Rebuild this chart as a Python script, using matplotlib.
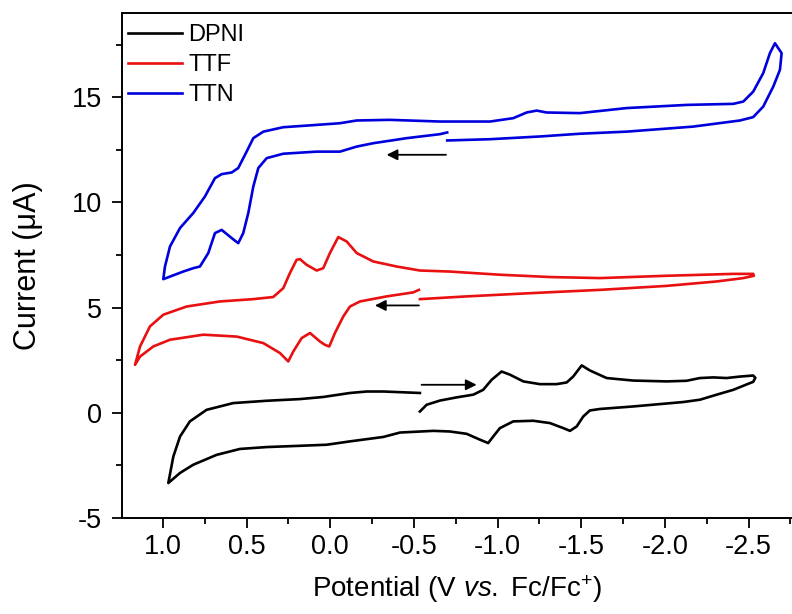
import matplotlib
matplotlib.use("Agg")
import matplotlib.pyplot as plt
from matplotlib.ticker import MultipleLocator

plt.rcParams['font.family'] = ['Liberation Sans', 'DejaVu Sans']
plt.rcParams['axes.unicode_minus'] = False
plt.rcParams['mathtext.fontset'] = 'custom'
plt.rcParams['mathtext.rm'] = 'Liberation Sans'
plt.rcParams['mathtext.it'] = 'Liberation Sans:italic'

# ---- data (Potential in V vs Fc/Fc+, Current in uA) ----
dpni_E = [-0.536, -0.576, -0.656, -0.755, -0.855, -0.914, -0.965, -1.024, -1.074, -1.154,
          -1.253, -1.353, -1.413, -1.452, -1.503, -1.552, -1.652, -1.811, -2.011, -2.130,
          -2.210, -2.289, -2.369, -2.449, -2.528, -2.541, -2.528, -2.509, -2.409, -2.310,
          -2.210, -2.110, -1.811, -1.612, -1.552, -1.512, -1.473, -1.433, -1.393, -1.313,
          -1.213, -1.094, -1.014, -0.974, -0.944, -0.895, -0.815, -0.715, -0.616, -0.417,
          -0.317, -0.118, 0.022, 0.181, 0.380, 0.540, 0.679, 0.819, 0.898, 0.968,
          0.938, 0.898, 0.839, 0.739, 0.580, 0.380, 0.181, 0.042, -0.118, -0.218,
          -0.317, -0.536]
dpni_I = [0.06, 0.38, 0.58, 0.73, 0.86, 1.09, 1.57, 1.96, 1.81, 1.49,
          1.36, 1.36, 1.44, 1.72, 2.25, 2.01, 1.65, 1.53, 1.49, 1.52,
          1.65, 1.68, 1.65, 1.72, 1.77, 1.66, 1.47, 1.41, 1.09, 0.86,
          0.62, 0.51, 0.30, 0.18, 0.11, -0.18, -0.65, -0.86, -0.73, -0.49,
          -0.38, -0.41, -0.73, -1.13, -1.44, -1.28, -1.00, -0.89, -0.86, -0.94,
          -1.15, -1.36, -1.52, -1.57, -1.63, -1.72, -2.00, -2.47, -2.86, -3.34,
          -2.08, -1.13, -0.41, 0.14, 0.46, 0.57, 0.65, 0.75, 0.94, 1.01,
          1.01, 0.94]

ttf_E = [-0.530, -0.496, -0.337, -0.178, -0.118, -0.078, -0.028, 0.006, 0.032, 0.062,
         0.121, 0.171, 0.221, 0.251, 0.301, 0.400, 0.559, 0.759, 0.958, 1.058,
         1.137, 1.167, 1.137, 1.078, 0.998, 0.858, 0.659, 0.460, 0.341, 0.281,
         0.241, 0.201, 0.181, 0.141, 0.081, 0.042, 0.002, -0.048, -0.098, -0.158,
         -0.257, -0.397, -0.536, -0.715, -1.014, -1.313, -1.612, -2.011, -2.409, -2.528,
         -2.532, -2.469, -2.310, -2.011, -1.612, -1.213, -0.815, -0.536]
ttf_I = [5.84, 5.72, 5.53, 5.29, 5.05, 4.58, 3.79, 3.15, 3.23, 3.39,
         3.79, 3.55, 2.91, 2.44, 2.84, 3.31, 3.62, 3.71, 3.47, 3.15,
         2.67, 2.28, 3.15, 4.10, 4.66, 5.05, 5.29, 5.40, 5.50, 5.92,
         6.64, 7.27, 7.30, 7.03, 6.76, 6.87, 7.59, 8.35, 8.14, 7.59,
         7.19, 6.95, 6.76, 6.71, 6.56, 6.45, 6.40, 6.51, 6.60, 6.60,
         6.51, 6.40, 6.24, 6.03, 5.84, 5.69, 5.53, 5.40]

ttn_E = [-0.699, -0.656, -0.457, -0.257, -0.158, -0.058, 0.081, 0.281, 0.380, 0.430,
         0.460, 0.490, 0.520, 0.550, 0.589, 0.649, 0.689, 0.729, 0.779, 0.819,
         0.879, 0.998, 0.988, 0.958, 0.898, 0.819, 0.749, 0.689, 0.649, 0.589,
         0.550, 0.500, 0.460, 0.400, 0.281, 0.081, -0.058, -0.158, -0.357, -0.656,
         -0.955, -1.094, -1.174, -1.234, -1.293, -1.492, -1.772, -2.130, -2.409, -2.469,
         -2.528, -2.588, -2.628, -2.658, -2.698, -2.688, -2.648, -2.588, -2.528, -2.449,
         -2.170, -1.772, -1.492, -1.253, -0.955, -0.699]
ttn_I = [13.32, 13.24, 13.05, 12.81, 12.65, 12.41, 12.41, 12.31, 12.10, 11.63,
         10.75, 9.49, 8.54, 8.06, 8.30, 8.69, 8.54, 7.59, 6.95, 6.87,
         6.71, 6.35, 6.95, 7.90, 8.78, 9.49, 10.28, 11.15, 11.34, 11.42,
         11.63, 12.41, 13.05, 13.36, 13.57, 13.68, 13.76, 13.89, 13.92, 13.84,
         13.84, 14.00, 14.27, 14.36, 14.27, 14.24, 14.48, 14.63, 14.68, 14.79,
         15.26, 16.14, 17.09, 17.56, 17.09, 16.30, 15.50, 14.55, 14.05, 13.89,
         13.60, 13.36, 13.26, 13.13, 13.00, 12.94]

# scan-direction arrows: (E_tail, E_head, I)
arrow_dpni = (-0.546, -0.875, 1.33)
arrow_ttf = (-0.530, -0.267, 5.10)
arrow_ttn = (-0.692, -0.337, 12.26)

labels = ['DPNI', 'TTF', 'TTN']
colors = ['#000000', '#e81010', '#0000dd']

fig = plt.figure(figsize=(7.92, 6.14), dpi=100)
ax = fig.add_axes([0.154, 0.1564, 0.846, 0.8225])

ax.plot(dpni_E, dpni_I, color=colors[0], lw=1.9, label=labels[0], solid_joinstyle='round')
ax.plot(ttf_E, ttf_I, color=colors[1], lw=1.9, label=labels[1], solid_joinstyle='round')
ax.plot(ttn_E, ttn_I, color=colors[2], lw=1.9, label=labels[2], solid_joinstyle='round')

for tail, head, yv in (arrow_dpni, arrow_ttf, arrow_ttn):
    ax.annotate('', xy=(head, yv), xytext=(tail, yv),
                arrowprops=dict(arrowstyle='-|>', color='black', lw=1.3,
                                mutation_scale=16, shrinkA=0, shrinkB=0))

ax.set_xlim(1.245, -2.76)
ax.set_ylim(-5, 19.0)
ax.xaxis.set_major_locator(MultipleLocator(0.5))
ax.xaxis.set_minor_locator(MultipleLocator(0.25))
ax.yaxis.set_major_locator(MultipleLocator(5))
ax.yaxis.set_minor_locator(MultipleLocator(2.5))
ax.tick_params(which='major', direction='out', length=7.2, width=1.3, labelsize=19.5)
ax.tick_params(axis='x', which='major', pad=4)
ax.tick_params(axis='y', which='major', pad=7)
ax.tick_params(which='minor', direction='out', length=4, width=1.3)
ax.tick_params(top=False, right=False)
for s in ('left', 'bottom', 'top'):
    ax.spines[s].set_linewidth(1.4)
ax.spines['right'].set_visible(False)

ax.set_xlabel(r'Potential (V $\it{vs.}$ Fc/Fc$^{+}$)', fontsize=20, labelpad=10)
ax.set_ylabel('Current (μA)', fontsize=22, labelpad=21)

leg = ax.legend(loc='upper left', frameon=False, fontsize=17, handlelength=2.3,
                handletextpad=0.25, labelspacing=0.35, borderaxespad=0.1,
                borderpad=0.15, bbox_to_anchor=(0.0, 0.99))

fig.savefig('out.png', dpi=100)
